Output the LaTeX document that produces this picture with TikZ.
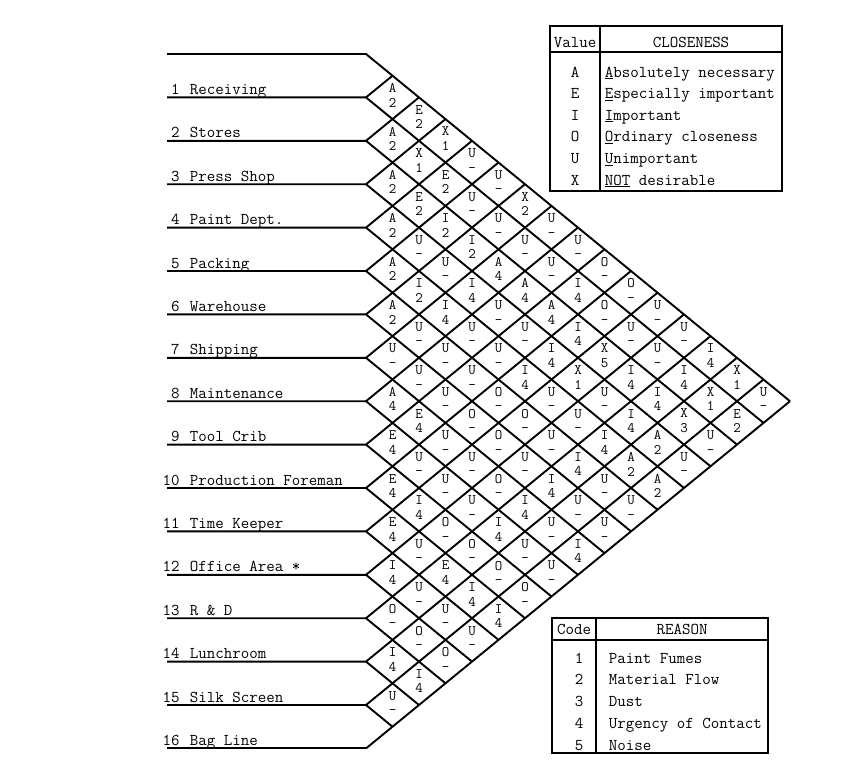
\documentclass[tikz,border=0pt]{standalone}
\usepackage{fontspec}
\usepackage{tikz}

\begin{document}
\begin{tikzpicture}[x=1pt, y=-1pt, line width=1.9pt,
    every node/.style={font=\ttfamily\fontsize{16.5}{12.5}\selectfont, inner sep=0pt},
    cell/.style={align=center, yshift=2pt, font=\ttfamily\fontsize{14.5}{14.5}\selectfont},
    dept/.style={anchor=base west},
    num/.style={anchor=base east},
    key/.style={anchor=base}
  ]
  \useasboundingbox (0,0) rectangle (846,766);
  % row lines and the diagonal grid
  \foreach \k in {0,...,16}{
    \coordinate (l-\k) at (167,{54+43.4*\k});
    \coordinate (v-\k) at (366,{54+43.4*\k});
    \coordinate (hi-\k) at ({366+26.5*\k},{54+21.7*\k});
    \coordinate (lo-\k) at ({366+26.5*(16-\k)},{54+21.7*(16+\k)});
    \draw (l-\k) -- (v-\k) -- (lo-\k);
    \draw (v-\k) -- (hi-\k);
  }
  % departments
  \foreach \k/\dname in {1/Receiving,2/Stores,3/Press Shop,4/Paint Dept.,
      5/Packing,6/Warehouse,7/Shipping,8/Maintenance,9/Tool Crib,
      10/Production Foreman,11/Time Keeper,12/Office Area *,13/R \& D,
      14/Lunchroom,15/Silk Screen,16/Bag Line}{
    \node[num] (n-\k) at (180.5,{54+43.4*\k-3}) {\k};
    \node[dept] (d-\k) at (189,{54+43.4*\k-3}) {\dname};
  }
  % closeness ratings, row i against j = i+1 ... 16
  \foreach \i/\row in {
      1/{A/2,E/2,X/1,U/-,U/-,X/2,U/-,U/-,O/-,O/-,U/-,U/-,I/4,X/1,U/-},
      2/{A/2,X/1,E/2,U/-,U/-,U/-,U/-,I/4,O/-,U/-,U/-,I/4,X/1,E/2},
      3/{A/2,E/2,I/2,I/2,A/4,A/4,A/4,I/4,X/5,I/4,I/4,X/3,U/-},
      4/{A/2,U/-,U/-,I/4,U/-,U/-,I/4,X/1,U/-,I/4,A/2,U/-},
      5/{A/2,I/2,I/4,U/-,U/-,I/4,U/-,U/-,I/4,A/2,A/2},
      6/{A/2,U/-,U/-,U/-,O/-,O/-,U/-,I/4,U/-,U/-},
      7/{U/-,U/-,U/-,O/-,O/-,U/-,I/4,U/-,U/-},
      8/{A/4,E/4,U/-,U/-,O/-,I/4,U/-,I/4},
      9/{E/4,U/-,U/-,U/-,I/4,U/-,U/-},
      10/{E/4,I/4,O/-,O/-,O/-,O/-},
      11/{E/4,U/-,E/4,I/4,I/4},
      12/{I/4,U/-,U/-,U/-},
      13/{O/-,O/-,O/-},
      14/{I/4,I/4},
      15/{U/-}}{
    \foreach \lv/\cd [count=\k] in \row {
      \pgfmathtruncatemacro\j{\i+\k}
      \node[cell] (c-\i-\j) at ({366+26.5*\k},{54+21.7*(\i+\j-1)}) {\lv\\\cd};
    }
  }
  % closeness key
  \draw (550,26) rectangle (782,191);
  \draw (550,52) -- (782,52);
  \draw (600,26) -- (600,191);
  \node[key] (val) at (575,47) {Value};
  \node[key] (clo) at (691,47) {CLOSENESS};
  \foreach \lv/\txt [count=\n] in {A/{\underline{A}bsolutely necessary},
      E/{\underline{E}specially important},I/{\underline{I}mportant},
      O/{\underline{O}rdinary closeness},U/{\underline{U}nimportant},
      X/{\underline{NOT} desirable}}{
    \node[key] (cv-\n) at (575,{77+21.6*(\n-1)}) {\lv};
    \node[dept] (ct-\n) at (604,{77+21.6*(\n-1)}) {\txt};
  }
  % reason key
  \draw (552,618) rectangle (768,753);
  \draw (552,640) -- (768,640);
  \draw (596,618) -- (596,753);
  \node[key] (code) at (574,634) {Code};
  \node[key] (rsn) at (682,634) {REASON};
  \foreach \txt [count=\n] in {Paint Fumes,Material Flow,Dust,Urgency of Contact,Noise}{
    \node[key] (rn-\n) at (579,{663+21.75*(\n-1)}) {\n};
    \node[dept] (rt-\n) at (608,{663+21.75*(\n-1)}) {\txt};
  }
\end{tikzpicture}
\end{document}
